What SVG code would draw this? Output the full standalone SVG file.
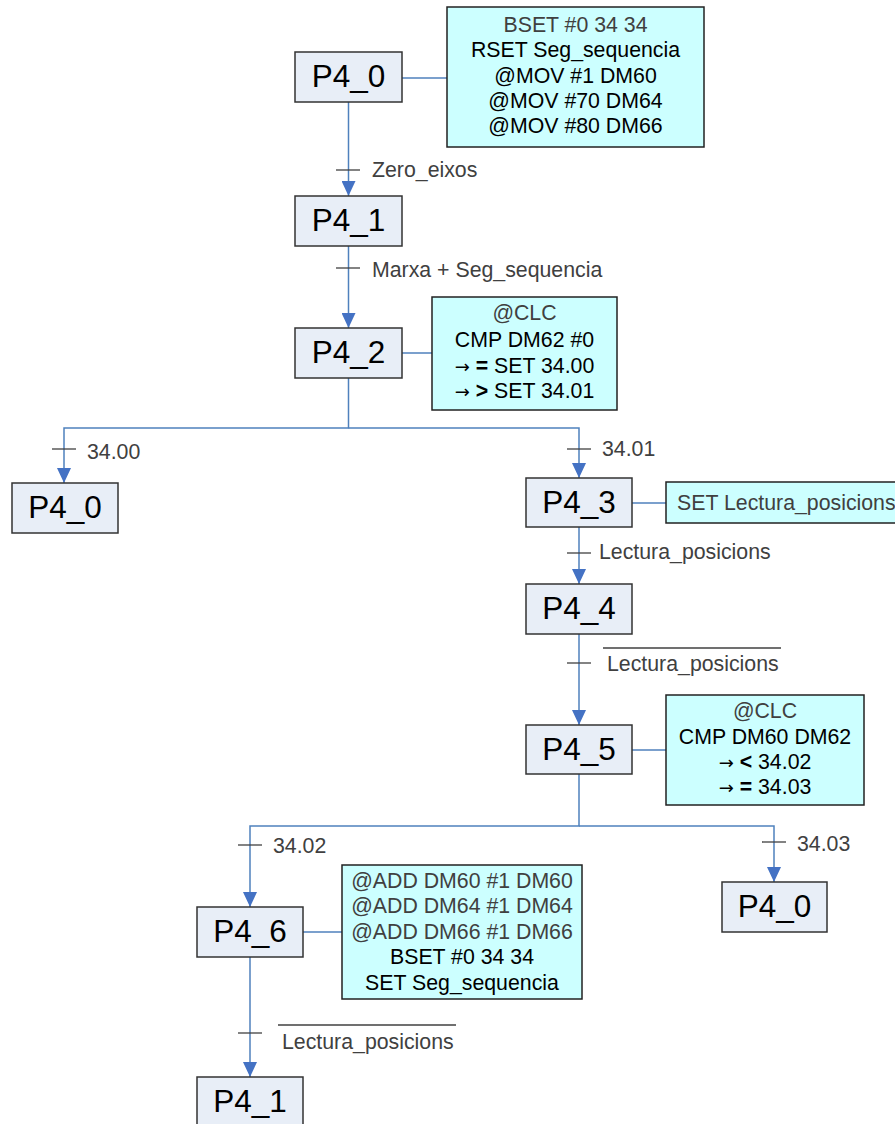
<svg xmlns="http://www.w3.org/2000/svg" width="895" height="1124" viewBox="0 0 895 1124">
<style>
.node rect{fill:#e8eef7;stroke:#333;stroke-width:1.5}
.node text{font-family:"Liberation Sans",Arial,sans-serif;font-size:31.5px;fill:#000;text-anchor:middle}
.note rect{fill:#ccffff;stroke:#222;stroke-width:1.5}
.note text{font-family:"Liberation Sans",Arial,sans-serif;font-size:21.3px;fill:#000;text-anchor:middle}
.note .g{fill:#404040}
.note .ar{font-family:"DejaVu Sans",sans-serif;font-size:18px}
.conn path{fill:none;stroke:#4f81bd;stroke-width:1.5}
.conn .arr{marker-end:url(#ah)}
.tick{stroke:#404040;stroke-width:1.3}
.lbl{font-family:"Liberation Sans",Arial,sans-serif;font-size:21.3px;fill:#404040}
</style>
<defs>
<marker id="ah" viewBox="0 0 15 14" refX="15" refY="7" markerWidth="15" markerHeight="14" markerUnits="userSpaceOnUse" orient="auto">
<path d="M0,0 L15,7 L0,14 z" fill="#4472c4"/>
</marker>
</defs>
<g id="connectors" class="conn">
<path class="arr" d="M348.5,102 V196"/>
<path class="arr" d="M348.5,246 V328"/>
<path class="arr" d="M348.5,378 V428 H64 V483"/>
<path class="arr" d="M348.5,428 H579 V478"/>
<path class="arr" d="M579,527 V584"/>
<path class="arr" d="M579,634 V725"/>
<path class="arr" d="M579,774 V826 H250 V907"/>
<path class="arr" d="M579,826 H774 V882"/>
<path class="arr" d="M250,957 V1077"/>
<path d="M402,78 H447"/>
<path d="M402,353 H432"/>
<path d="M632,503 H666"/>
<path d="M632,750 H666"/>
<path d="M303,932 H342"/>
</g>
<g id="conditions">
<line class="tick" x1="336" y1="170" x2="360" y2="170"/>
<text class="lbl" x="372" y="177">Zero_eixos</text>
<line class="tick" x1="336" y1="268" x2="360" y2="268"/>
<text class="lbl" x="372" y="277">Marxa + Seg_sequencia</text>
<line class="tick" x1="52" y1="449" x2="76" y2="449"/>
<text class="lbl" x="87" y="459">34.00</text>
<line class="tick" x1="567" y1="449" x2="591" y2="449"/>
<text class="lbl" x="602" y="456">34.01</text>
<line class="tick" x1="567" y1="553" x2="591" y2="553"/>
<text class="lbl" x="599" y="559">Lectura_posicions</text>
<line class="tick" x1="567" y1="663" x2="591" y2="663"/>
<line class="tick" x1="603" y1="648" x2="781" y2="648"/>
<text class="lbl" x="607" y="671">Lectura_posicions</text>
<line class="tick" x1="762" y1="842" x2="786" y2="842"/>
<text class="lbl" x="797" y="851">34.03</text>
<line class="tick" x1="238" y1="845" x2="262" y2="845"/>
<text class="lbl" x="273" y="853">34.02</text>
<line class="tick" x1="238" y1="1033" x2="262" y2="1033"/>
<line class="tick" x1="278" y1="1025" x2="456" y2="1025"/>
<text class="lbl" x="282" y="1049">Lectura_posicions</text>
</g>
<g id="P4_0_top" class="node"><rect x="295" y="52" width="107" height="50"/><text x="348.5" y="87">P4_0</text></g>
<g id="P4_1_a" class="node"><rect x="295" y="196" width="107" height="50"/><text x="348.5" y="231">P4_1</text></g>
<g id="P4_2" class="node"><rect x="295" y="328" width="107" height="50"/><text x="348.5" y="363">P4_2</text></g>
<g id="P4_0_left" class="node"><rect x="12" y="483" width="106" height="50"/><text x="65" y="518">P4_0</text></g>
<g id="P4_3" class="node"><rect x="526" y="478" width="106" height="49"/><text x="579" y="513">P4_3</text></g>
<g id="P4_4" class="node"><rect x="526" y="584" width="106" height="50"/><text x="579" y="619">P4_4</text></g>
<g id="P4_5" class="node"><rect x="526" y="725" width="106" height="49"/><text x="579" y="760">P4_5</text></g>
<g id="P4_0_right" class="node"><rect x="722" y="882" width="105" height="50"/><text x="774.5" y="917">P4_0</text></g>
<g id="P4_6" class="node"><rect x="197" y="907" width="106" height="50"/><text x="250" y="942">P4_6</text></g>
<g id="P4_1_b" class="node"><rect x="197" y="1077" width="106" height="50"/><text x="250" y="1112">P4_1</text></g>
<g id="note_P4_0" class="note"><rect x="447" y="7" width="257" height="140"/>
<text x="575.5" y="32" class="g">BSET #0 34 34</text>
<text x="575.5" y="57">RSET Seg_sequencia</text>
<text x="575.5" y="83">@MOV #1 DM60</text>
<text x="575.5" y="108">@MOV #70 DM64</text>
<text x="575.5" y="133">@MOV #80 DM66</text>
</g>
<g id="note_P4_2" class="note"><rect x="432" y="297" width="185" height="113"/>
<text x="524.5" y="320" class="g">@CLC</text>
<text x="524.5" y="347">CMP DM62 #0</text>
<text x="524.5" y="373"><tspan class="ar">→</tspan> <tspan font-weight="bold">=</tspan> SET 34.00</text>
<text x="524.5" y="398"><tspan class="ar">→</tspan> <tspan font-weight="bold">&gt;</tspan> SET 34.01</text>
</g>
<g id="note_P4_3" class="note"><rect x="666" y="482" width="240" height="41"/>
<text x="677" y="510" style="text-anchor:start" class="g">SET Lectura_posicions</text>
</g>
<g id="note_P4_5" class="note"><rect x="666" y="695" width="198" height="110"/>
<text x="765" y="718" class="g">@CLC</text>
<text x="765" y="744">CMP DM60 DM62</text>
<text x="765" y="769"><tspan class="ar">→</tspan> <tspan font-weight="bold">&lt;</tspan> 34.02</text>
<text x="765" y="794"><tspan class="ar">→</tspan> <tspan font-weight="bold">=</tspan> 34.03</text>
</g>
<g id="note_P4_6" class="note"><rect x="342" y="865" width="240" height="134"/>
<text x="462" y="888" class="g">@ADD DM60 #1 DM60</text>
<text x="462" y="913" class="g">@ADD DM64 #1 DM64</text>
<text x="462" y="939" class="g">@ADD DM66 #1 DM66</text>
<text x="462" y="964">BSET #0 34 34</text>
<text x="462" y="990">SET Seg_sequencia</text>
</g>
</svg>
